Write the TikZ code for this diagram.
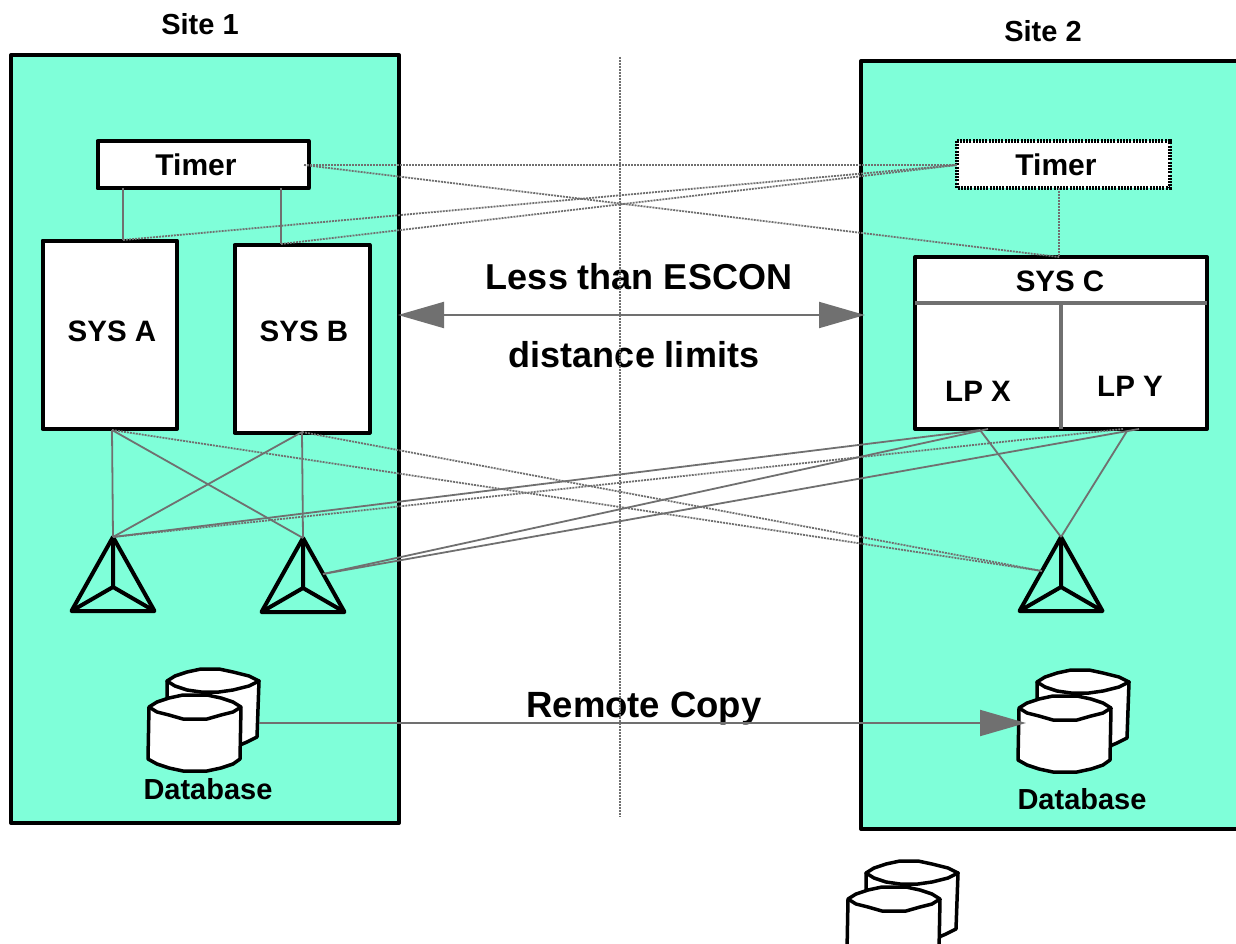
\documentclass[tikz,border=0pt]{standalone}
\usepackage{fontspec}
\setmainfont{Liberation Sans}
\usetikzlibrary{arrows.meta}
\definecolor{sitegreen}{HTML}{7FFFD9}
\definecolor{linkgray}{HTML}{707070}
\tikzset{
    sitebox/.style={draw,line width=4pt,line join=round,fill=sitegreen,inner sep=0pt,outer sep=0pt,anchor=north west},
    hostbox/.style={draw,line width=4pt,line join=round,fill=white,inner sep=0pt,outer sep=0pt,anchor=north west},
    txt/.style={font=\bfseries\fontsize{#1}{#1}\selectfont,inner sep=0pt},
    link/.style={draw=linkgray,line width=1.8pt},
    dotlink/.style={draw=linkgray,line width=1.8pt,dash pattern=on 2pt off 1pt},
    bigarrow/.style={draw=linkgray,line width=2pt,-{Triangle[length=46pt,width=26pt,fill=linkgray]}},
    pics/prism/.style={code={
        \coordinate (-top) at (0,-50);
        \coordinate (-mid) at (0,0);
        \coordinate (-left) at (-41.5,24);
        \coordinate (-right) at (41.5,24);
        \coordinate (-rside) at (20,-14);
        \coordinate (-lside) at (-19,-16);
        \draw[line width=4pt,line join=round] (-top) -- (-left) -- (-right) -- cycle;
        \draw[line width=4pt,line join=round] (-top) -- (-mid) (-left) -- (-mid) -- (-right);
    }},
    pics/diskpair/.style={code={
        \filldraw[fill=white,line width=3.5pt,line join=round]
            (-28,-26) -- (-28,0) -- (40,0) -- (45,38) -- (52,35) -- (62,30) -- (64,-26) -- cycle;
        \filldraw[fill=white,line width=3.5pt,line join=round]
            (-28,-26) -- (-20,-31) -- (-8,-35) -- (6,-38) -- (24,-38) -- (38,-35) -- (54,-31) -- (64,-26)
            -- (54,-21) -- (38,-17) -- (24,-15) -- (6,-15) -- (-8,-17) -- (-20,-21) -- cycle;
        \filldraw[fill=white,line width=3.5pt,line join=round]
            (-46,0) -- (-47,52) -- (-38,57) -- (-26,61) -- (-12,64) -- (12,64) -- (26,61) -- (38,57) -- (45,52) -- (46,0)
            -- (38,-5) -- (26,-9) -- (12,-12) -- (-12,-12) -- (-26,-9) -- (-38,-5) -- cycle;
        \draw[line width=3.5pt,line join=round]
            (-46,0) -- (-38,5) -- (-26,8) -- (-12,12) -- (12,12) -- (26,8) -- (38,5) -- (46,0);
    }}
}
\begin{document}
\begin{tikzpicture}[x=1pt,y=-1pt]
    \useasboundingbox (0,0) rectangle (1236,944);

    % sites
    \node[sitebox,minimum width=388pt,minimum height=768pt] (site1) at (11,55) {};
    \node[sitebox,minimum width=420pt,minimum height=768pt] (site2) at (861,61) {};
    \node[txt=29pt] (site1txt) at (200,24) {Site 1};
    \node[txt=29pt] (site2txt) at (1043,31) {Site 2};

    % timers and systems
    \node[hostbox,minimum width=211pt,minimum height=47.5pt] (timer1) at (97.5,141) {};
    \node[txt=30pt] (timer1txt) at (196,165) {Timer};
    \node[hostbox,draw=none,minimum width=212.5pt,minimum height=47.5pt] (timer2) at (957,141) {};
    \draw[line width=4pt,dash pattern=on 2pt off 1.2pt] (timer2.north west) rectangle (timer2.south east);
    \node[txt=30pt] (timer2txt) at (1056,165) {Timer};
    \node[hostbox,minimum width=134.5pt,minimum height=188.5pt] (sysa) at (42.5,240.5) {};
    \node[hostbox,minimum width=135pt,minimum height=187.5pt] (sysb) at (234.5,245) {};
    \node[hostbox,minimum width=292pt,minimum height=172pt] (sysc) at (915,257) {};
    \node[txt=29.5pt] (sysatxt) at (112,331) {SYS A};
    \node[txt=29.5pt] (sysbtxt) at (304,331) {SYS B};
    \node[txt=29.5pt] (sysctxt) at (1060,281) {SYS C};
    \node[txt=29.5pt] (lpxtxt) at (978,391) {LP X};
    \node[txt=29.5pt] (lpytxt) at (1130,386) {LP Y};

    \coordinate (sysch) at (915,303);
    \coordinate (syscr) at (1207,303);
    \coordinate (sysct) at (1061,303);
    \coordinate (syscb) at (1061,429);
    \draw[draw=linkgray,line width=4pt] (sysch) -- (syscr);
    \draw[draw=linkgray,line width=4pt] (sysct) -- (syscb);

    % devices
    \pic (tri1) at (113,587) {prism};
    \pic (tri2) at (303,588) {prism};
    \pic (tri3) at (1061,587) {prism};
    \pic (disk1) at (195,707) {diskpair};
    \pic (disk2) at (1065,708) {diskpair};
    \pic (disk3) at (894,899) {diskpair};
    \node[txt=29pt] (db1txt) at (208,789) {Database};
    \node[txt=29pt] (db2txt) at (1082,799) {Database};

    % middle texts
    \node[txt=36pt] (lesstxt) at (639,277) {Less than ESCON};
    \node[txt=36pt] (disttxt) at (634,355) {distance limits};
    \node[txt=36.5pt] (copytxt) at (644,709) {Remote Copy};

    % connection points
    \coordinate (t1out) at (304,165);
    \coordinate (t2in) at (957,165);
    \coordinate (t2down) at (1059,188);
    \coordinate (t1a) at (123,188);
    \coordinate (t1b) at (281,188);
    \coordinate (atop) at (123,240);
    \coordinate (btop) at (281,244);
    \coordinate (ctop) at (1059,257);
    \coordinate (abot) at (112,430);
    \coordinate (bbot) at (302,432);
    \coordinate (xbot) at (980,430);
    \coordinate (xbotb) at (988,429);
    \coordinate (ybot) at (1123,429);
    \coordinate (ybotb) at (1139,429);
    \coordinate (ybotc) at (1127,431);
    \coordinate (up) at (620,57);
    \coordinate (down) at (620,817);
    \coordinate (leftend) at (398,315);
    \coordinate (rightend) at (865,315);
    \coordinate (copyfrom) at (259,723);
    \coordinate (copyto) at (1026,723);

    \draw[link] (t1a) -- (atop);
    \draw[link] (t1b) -- (btop);
    \draw[dotlink] (t2down) -- (ctop);
    \draw[dotlink] (t1out) -- (t2in);
    \draw[dotlink] (t1out) -- (ctop);
    \draw[dotlink] (atop) -- (t2in);
    \draw[dotlink] (btop) -- (t2in);

    \draw[link] (abot) -- (tri1-top);
    \draw[link] (abot) -- (tri2-top);
    \draw[link] (bbot) -- (tri1-top);
    \draw[link] (bbot) -- (tri2-top);
    \draw[dotlink] (abot) -- (tri3-lside);
    \draw[dotlink] (bbot) -- (tri3-lside);
    \draw[link] (tri1-top) -- (xbot);
    \draw[dotlink] (tri1-top) -- (ybot);
    \draw[link] (tri2-rside) -- (xbotb);
    \draw[link] (tri2-rside) -- (ybotb);
    \draw[link] (xbot) -- (tri3-top);
    \draw[link] (ybotc) -- (tri3-top);

    \draw[dotlink] (up) -- (down);
    \draw[bigarrow,{Triangle[length=46pt,width=26pt,fill=linkgray]}-{Triangle[length=46pt,width=26pt,fill=linkgray]}] (leftend) -- (rightend);
    \draw[bigarrow] (copyfrom) -- (copyto);
\end{tikzpicture}
\end{document}
